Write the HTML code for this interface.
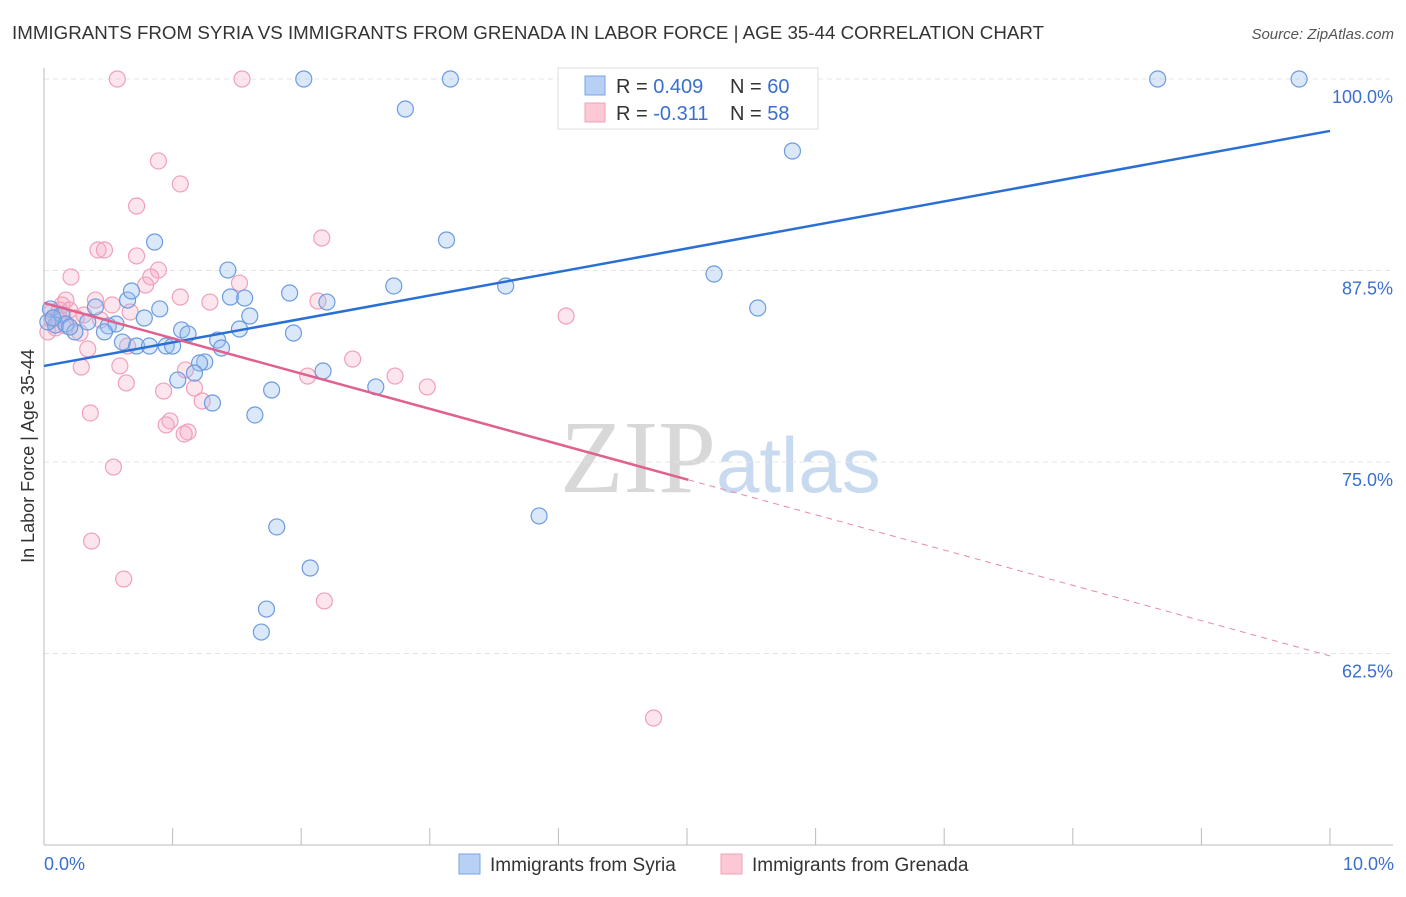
<!DOCTYPE html>
<html><head><meta charset="utf-8"><style>
body{margin:0;background:#fff;font-family:"Liberation Sans",sans-serif}
</style></head><body>
<svg id="chart" width="1406" height="892" xmlns="http://www.w3.org/2000/svg" font-family="Liberation Sans, sans-serif">
<text x="12" y="39" font-size="18" fill="#333" textLength="1032" lengthAdjust="spacingAndGlyphs">IMMIGRANTS FROM SYRIA VS IMMIGRANTS FROM GRENADA IN LABOR FORCE | AGE 35-44 CORRELATION CHART</text>
<text x="1394" y="39" font-size="15" fill="#555" font-style="italic" text-anchor="end">Source: ZipAtlas.com</text>
<text x="716" y="492" font-size="104" fill="#d8d8d8" text-anchor="end" font-family="Liberation Serif, serif">ZIP</text>
<text x="716" y="492" font-size="78" fill="#c8daf0">atlas</text>
<g id="grid"></g><g id="axes"></g><g id="pts"></g><g id="lines"></g>
<text transform="translate(34,456) rotate(-90)" font-size="18" fill="#333" text-anchor="middle">In Labor Force | Age 35-44</text>
<text x="44" y="870" font-size="18" fill="#3a6fd0">0.0%</text>
<text x="1394" y="870" font-size="18" fill="#3a6fd0" text-anchor="end">10.0%</text>
<g>
<rect x="558" y="68" width="260" height="61" fill="#fff" stroke="#ddd"/>
<rect x="585" y="76" width="20" height="19" fill="#b8d0f4" stroke="#7aa4e4"/>
<rect x="585" y="103" width="20" height="19" fill="#fcc8d6" stroke="#f0a0b8"/>
<text x="616" y="93" font-size="20" fill="#333">R = <tspan fill="#3a6fd0">0.409</tspan><tspan x="730">N = </tspan><tspan fill="#3a6fd0">60</tspan></text>
<text x="616" y="120" font-size="20" fill="#333">R = <tspan fill="#3a6fd0"> -0.311</tspan><tspan x="730">N = </tspan><tspan fill="#3a6fd0"> 58</tspan></text>
</g>
<g>
<rect x="459" y="854" width="21" height="20" fill="#b8d0f4" stroke="#7aa4e4"/>
<text x="490" y="871" font-size="19" fill="#333">Immigrants from Syria</text>
<rect x="721" y="854" width="21" height="20" fill="#fcc8d6" stroke="#f0a0b8"/>
<text x="752" y="871" font-size="19" fill="#333">Immigrants from Grenada</text>
</g>
</svg>
<script>
const yTicks=[100,87.5,75,62.5];
const yTickLabels=["100.0%","87.5%","75.0%","62.5%"];
const xTicks=[1,2,3,4,5,6,7,8,9,10];
const syriaX=[2.02,3.16,8.66,9.76,2.81,5.82,0.86,3.13,1.43,5.21,2.72,3.59,1.91,1.45,1.56,0.65,0.68,2.20,5.55,0.90,1.60,0.78,0.40,0.05,0.14,0.09,0.17,0.34,0.50,0.56,0.47,0.24,1.07,1.12,1.52,1.94,1.35,0.61,0.72,0.82,0.95,1.00,1.38,1.25,1.21,2.17,1.17,1.04,2.58,1.77,1.31,1.64,3.85,1.81,2.07,1.73,1.69,0.03,0.07,0.20];
const syriaY=[100,100,100,100,98.04,95.30,89.36,89.49,87.53,87.27,86.49,86.49,86.03,85.77,85.70,85.57,86.16,85.44,85.05,84.99,84.53,84.40,85.12,84.99,84.60,83.94,84.01,84.14,83.88,84.01,83.49,83.49,83.62,83.36,83.68,83.42,82.96,82.83,82.57,82.57,82.57,82.57,82.44,81.53,81.46,80.94,80.81,80.35,79.90,79.70,78.85,78.07,71.48,70.76,68.08,65.40,63.90,84.14,84.40,83.81];
const grenadaX=[0.57,1.54,0.89,1.06,0.72,2.16,0.42,0.47,0.21,0.72,0.89,0.83,0.79,1.52,1.06,1.29,0.17,0.14,0.53,0.40,2.13,4.06,0.67,0.06,0.11,0.25,0.17,0.03,0.28,0.34,0.65,2.40,0.29,0.59,2.05,2.73,2.98,0.64,0.93,1.17,1.10,1.23,0.36,0.98,0.95,1.12,1.09,0.54,0.37,0.62,2.18,4.74,0.06,0.12,0.31,0.44,0.20,0.09];
const grenadaY=[100,100,94.65,93.15,91.71,89.62,88.84,88.84,87.08,88.45,87.53,87.08,86.55,86.68,85.77,85.44,85.57,85.25,85.25,85.57,85.51,84.53,84.79,84.79,84.40,84.40,83.88,83.49,83.42,82.38,82.57,81.72,81.20,81.27,80.61,80.61,79.90,80.16,79.63,79.83,81.01,78.98,78.20,77.68,77.42,76.96,76.83,74.67,69.84,67.36,65.93,58.29,84.27,84.92,84.60,84.27,84.92,83.75];
const syriaTrend=[81.27,96.61];
const grenadaTrend=[85.38,62.34];
const grenadaSolidEnd=5.01;
const NS="http://www.w3.org/2000/svg";
const X=v=>44+v*128.6, Y=v=>79+(100-v)*15.32;
function mk(tag,attrs,parent){const e=document.createElementNS(NS,tag);for(const k in attrs)e.setAttribute(k,attrs[k]);document.getElementById(parent).appendChild(e);return e;}
yTicks.forEach((t,i)=>{
 const l=mk('line',{x1:44,x2:1393,y1:Y(t),y2:Y(t),stroke:'#e4e4e4','stroke-dasharray':'5,4'},'grid');
 
 
 const tx=mk('text',{x:1393,y:Y(t)+24,'font-size':18,fill:'#3a6fd0','text-anchor':'end'},'grid');
 tx.textContent=yTickLabels[i];
 
 
});
let a=mk('line',{x1:44,x2:44,y1:68,y2:845,stroke:'#bbb'},'axes');


a=mk('line',{x1:44,x2:1393,y1:845,y2:845,stroke:'#bbb'},'axes');


xTicks.forEach(t=>{const l=mk('line',{x1:X(t),x2:X(t),y1:828,y2:845,stroke:'#bbb'},'axes');
 
 });
grenadaX.forEach((x,i)=>{const c=mk('circle',{cx:X(x),cy:Y(grenadaY[i]),r:8,fill:'rgba(248,170,195,0.3)',stroke:'#f0a0b8','stroke-width':1.2},'pts');
 
 });
syriaX.forEach((x,i)=>{const c=mk('circle',{cx:X(x),cy:Y(syriaY[i]),r:8,fill:'rgba(150,190,240,0.35)',stroke:'#6c9be0','stroke-width':1.2},'pts');
 
 });
let ln=mk('line',{x1:X(0),y1:Y(syriaTrend[0]),x2:X(10),y2:Y(syriaTrend[1]),stroke:'#2a6fd6','stroke-width':2.5},'lines');


const gy=v=>grenadaTrend[0]+(grenadaTrend[1]-grenadaTrend[0])*v/10;
ln=mk('line',{x1:X(0),y1:Y(gy(0)),x2:X(grenadaSolidEnd),y2:Y(gy(grenadaSolidEnd)),stroke:'#e0608e','stroke-width':2.5},'lines');


ln=mk('line',{x1:X(grenadaSolidEnd),y1:Y(gy(grenadaSolidEnd)),x2:X(10),y2:Y(gy(10)),stroke:'#e888a8','stroke-width':1,'stroke-dasharray':'6,5'},'lines');


</script>
</body></html>
